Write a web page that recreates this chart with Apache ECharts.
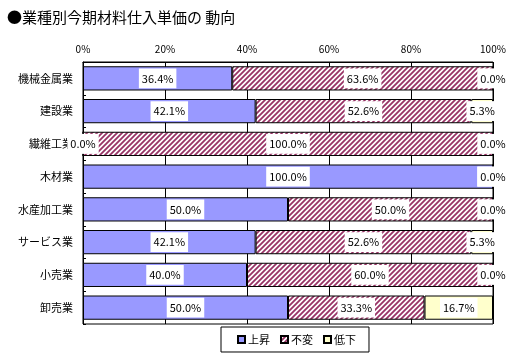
<!DOCTYPE html>
<html><head><meta charset="utf-8">
<script src="https://cdn.jsdelivr.net/npm/echarts@6/dist/echarts.min.js"></script>
<style>html,body{margin:0;padding:0;background:#fff}#c{width:516px;height:364px}</style>
</head><body><div id="c"></div>
<script>
const titleText = '●業種別今期材料仕入単価の 動向';
const categories = ['機械金属業','建設業','繊維工業','木材業','水産加工業','サービス業','小売業','卸売業'];
const seriesNames = ['上昇','不変','低下'];
const upValues = [36.4, 42.1, 0.0, 100.0, 50.0, 42.1, 40.0, 50.0];
const sameValues = [63.6, 52.6, 100.0, 0.0, 50.0, 52.6, 60.0, 33.3];
const downValues = [0.0, 5.3, 0.0, 0.0, 0.0, 5.3, 0.0, 16.7];
const xTicks = ['0%','20%','40%','60%','80%','100%'];

const font = '"Noto Sans CJK JP", sans-serif';

function hatch() {
  const s = 5;
  const cv = document.createElement('canvas');
  cv.width = s; cv.height = s;
  const g = cv.getContext('2d');
  g.fillStyle = '#fff'; g.fillRect(0,0,s,s);
  g.strokeStyle = '#993366'; g.lineWidth = 1.8;
  g.beginPath();
  g.moveTo(-1, s+1); g.lineTo(s+1, -1);
  g.moveTo(-1, 1); g.lineTo(1, -1);
  g.moveTo(s-1, s+1); g.lineTo(s+1, s-1);
  g.stroke();
  return cv;
}

const colors = ['#9999FF', {image: hatch(), repeat: 'repeat'}, '#FFFFCC'];
const dataSets = [upValues, sameValues, downValues];

const chart = echarts.init(document.getElementById('c'), null, {renderer: 'canvas'});
chart.setOption({
  animation: false,
  textStyle: {fontFamily: font},
  title: {text: titleText, left: 2, top: 5, textStyle: {fontSize: 15, fontWeight: 'normal', color: '#000', fontFamily: font}},
  legend: {
    data: seriesNames, left: 221, top: 327, orient: 'horizontal',
    padding: [7, 13, 7, 16], itemGap: 10, itemWidth: 7, itemHeight: 7,
    borderColor: '#000', borderWidth: 1,
    textStyle: {fontSize: 11, color: '#000', padding: [0,0,0,-2]},
    icon: 'rect'
  },
  grid: {left: 83, right: 23, top: 62, bottom: 40, show: true, borderColor: '#000', borderWidth: 1, backgroundColor: '#fff'},
  xAxis: {
    type: 'value', position: 'top', min: 0, max: 100, interval: 20,
    axisLine: {show: true, lineStyle: {color: '#000'}},
    axisTick: {show: false},
    splitLine: {show: true, lineStyle: {color: '#000', width: 1}},
    axisLabel: {color: '#000', fontSize: 10, margin: 8, formatter: (v) => xTicks[Math.round(v/20)]}
  },
  yAxis: {
    type: 'category', data: categories, inverse: true,
    axisLine: {show: true, lineStyle: {color: '#000'}},
    axisTick: {show: true, inside: true, length: 3, lineStyle: {color: '#000'}},
    axisLabel: {color: '#000', fontSize: 11, margin: 10}
  },
  series: seriesNames.map((n, i) => ({
    name: n, type: 'bar', stack: 'total', barCategoryGap: '26%',
    data: dataSets[i],
    itemStyle: {color: colors[i], borderColor: '#000', borderWidth: 1},
    label: {
      show: true, position: 'inside', color: '#000', fontSize: 11,
      backgroundColor: '#fff', padding: [5, 3, 4, 3],
      formatter: (p) => p.value.toFixed(1) + '%'
    }
  }))
});
</script></body></html>
